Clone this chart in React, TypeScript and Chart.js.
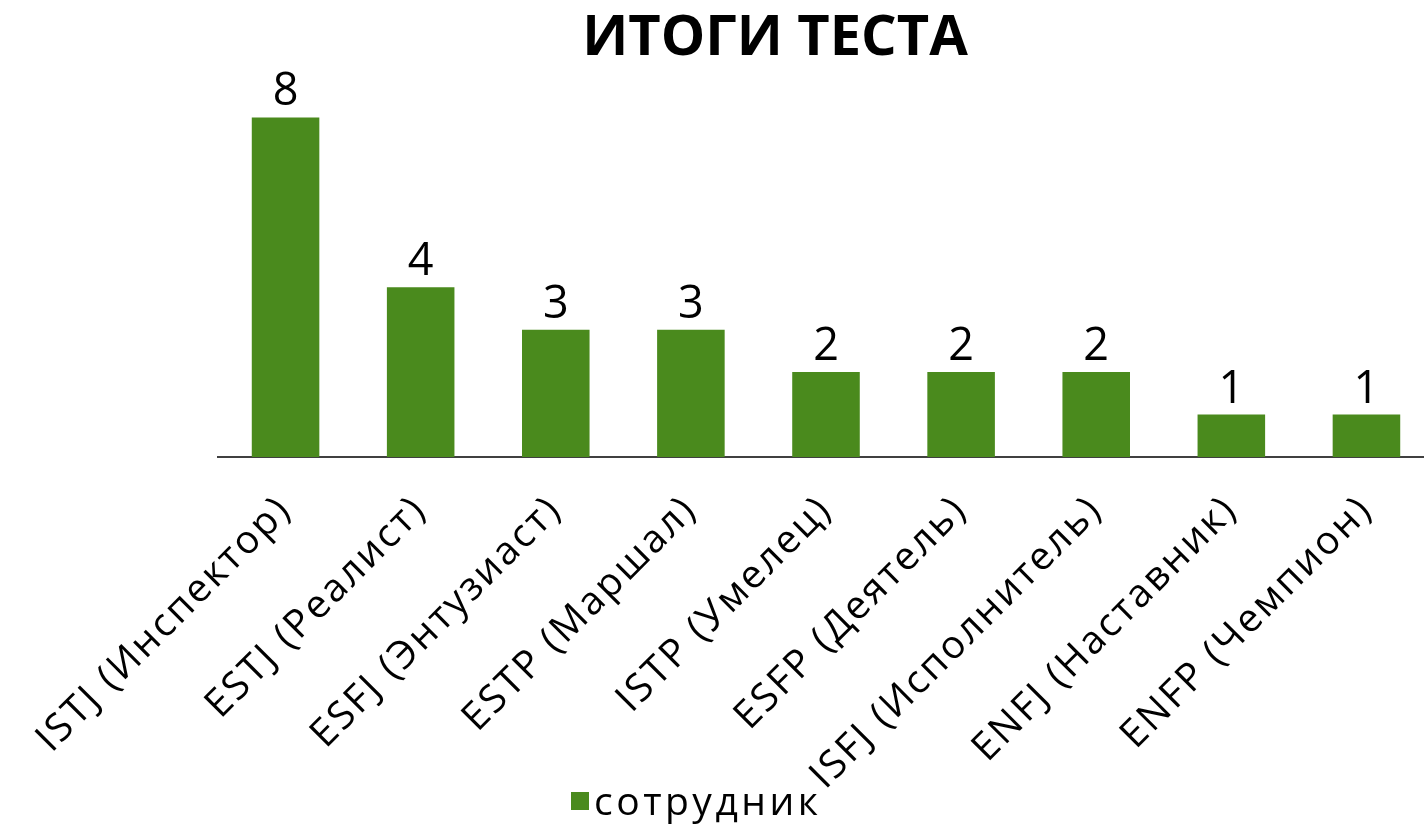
import React, { useEffect, useRef } from "react";
import { Chart, registerables } from "chart.js";

Chart.register(...registerables);

const categories: string[] = [
  "ISTJ (Инспектор)",
  "ESTJ (Реалист)",
  "ESFJ (Энтузиаст)",
  "ESTP (Маршал)",
  "ISTP (Умелец)",
  "ESFP (Деятель)",
  "ISFJ (Исполнитель)",
  "ENFJ (Наставник)",
  "ENFP (Чемпион)",
];
const values: number[] = [8, 4, 3, 3, 2, 2, 2, 1, 1];
const seriesName = "сотрудник";
const chartTitle = "ИТОГИ ТЕСТА";

const BAR_COLOR = "#4a8a1d";
const FONT = "'Open Sans', 'Noto Sans', sans-serif";

const W = 1436;
const H = 828;

export default function App() {
  const ref = useRef<HTMLCanvasElement | null>(null);

  useEffect(() => {
    document.body.style.overflow = "hidden";
    const canvas = ref.current;
    if (!canvas) return;

    const overlay = {
      id: "overlay",
      beforeDraw(chart: any) {
        (chart.ctx as any).letterSpacing = "2.5px";
      },
      afterDatasetsDraw(chart: any) {
        const ctx = chart.ctx;
        const meta = chart.getDatasetMeta(0);
        ctx.save();
        (ctx as any).letterSpacing = "0px";
        ctx.fillStyle = "#000";
        ctx.font = `45px ${FONT}`;
        ctx.textAlign = "center";
        ctx.textBaseline = "alphabetic";
        meta.data.forEach((bar: any, i: number) => {
          ctx.fillText(String(values[i]), bar.x, bar.y - 12);
        });
        ctx.restore();
      },
      afterDraw(chart: any) {
        const ctx = chart.ctx;
        ctx.save();
        // title
        (ctx as any).letterSpacing = "0px";
        ctx.fillStyle = "#000";
        ctx.font = `bold 56px ${FONT}`;
        ctx.textAlign = "center";
        ctx.textBaseline = "alphabetic";
        ctx.fillText(chartTitle, chart.width * 0.5397, 55);
        // legend
        ctx.fillStyle = BAR_COLOR;
        ctx.fillRect(571, 792, 18, 18);
        (ctx as any).letterSpacing = "3.5px";
        ctx.fillStyle = "#000";
        ctx.font = `39px ${FONT}`;
        ctx.textAlign = "left";
        ctx.fillText(seriesName, 594, 815);
        ctx.restore();
        (ctx as any).letterSpacing = "0px";
      },
    };

    const chart = new Chart(canvas, {
      type: "bar",
      data: {
        labels: categories,
        datasets: [
          {
            label: seriesName,
            data: values,
            backgroundColor: BAR_COLOR,
            borderWidth: 0,
            categoryPercentage: 1,
            barPercentage: 0.5,
          },
        ],
      },
      options: {
        responsive: false,
        animation: false,
        layout: { padding: { left: 218, right: 2, top: 75, bottom: 0 } },
        plugins: {
          legend: { display: false },
          title: { display: false },
          tooltip: { enabled: false },
        },
        scales: {
          x: {
            grid: { display: false, drawTicks: false },
            border: { display: true, color: "#404040", width: 2 },
            ticks: {
              autoSkip: false,
              minRotation: 45,
              maxRotation: 45,
              color: "#000",
              padding: 30,
              font: { family: FONT, size: 39 },
            },
            afterFit: (scale: any) => {
              scale.height = H - 457;
            },
          },
          y: {
            display: false,
            min: 0,
            max: 9,
          },
        },
      },
      plugins: [overlay],
    });

    return () => chart.destroy();
  }, []);

  return (
    <div style={{ position: "fixed", left: 0, top: 0, width: W, height: H, background: "#fff" }}>
      <canvas ref={ref} width={W} height={H} style={{ display: "block" }} />
    </div>
  );
}
